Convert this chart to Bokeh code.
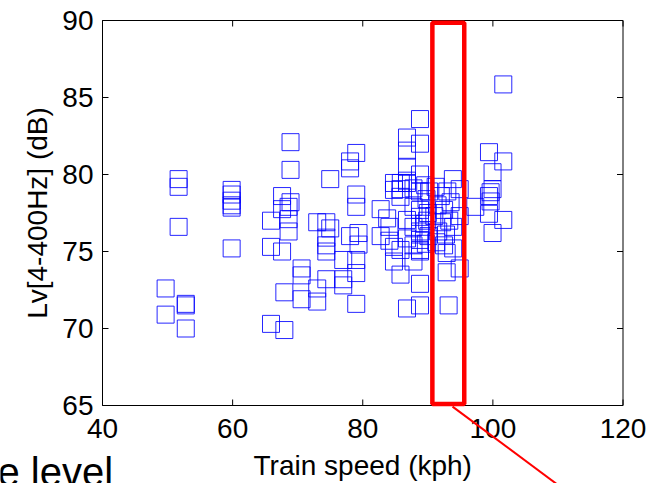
import math
from bokeh.plotting import figure
from bokeh.models import Range1d, Label, ColumnDataSource
from bokeh.core.properties import value
from bokeh.embed import file_html
from bokeh.resources import INLINE

# ---- data ----
speed_kph = [
    49.7, 49.7, 51.7, 51.7, 51.7, 52.8, 52.8, 52.8,
    59.85, 59.85, 59.85, 59.85, 59.85, 59.85,
    68.9, 68.9, 79.0, 78.05, 78.05, 75.0, 79.0, 79.0, 67.6, 68.9, 67.6, 68.6, 68.6, 65.9,
    68.6, 65.9, 67.6, 73.0, 75.0, 74.4, 74.4, 74.4, 74.4, 78.05, 79.35, 79.35, 82.75, 82.75,
    77.0, 79.0, 79.0, 70.6, 70.6, 74.4, 77.0, 77.0, 73.0, 73.0, 70.6, 67.95, 79.0, 65.9, 67.95,
    83.75, 84.1, 84.1, 84.8, 84.8, 85.8, 87.8, 88.8, 86.8, 88.8, 88.8, 86.8, 88.8, 86.8, 86.8,
    88.8, 84.8, 85.85, 84.8, 86.8, 87.8, 88.8, 85.8, 85.8, 87.8, 88.8, 88.8, 86.8, 87.8, 88.8,
    88.8, 86.8, 87.8, 88.8, 85.8, 86.8, 88.8,
    89.6, 89.8, 90.0, 89.5, 90.1, 89.7, 90.2, 89.9,
    93.2, 92.9, 94.9, 92.9, 93.9, 93.85, 94.9, 94.9, 91.2, 92.0, 93.0, 91.5, 92.5, 93.5,
    91.0, 92.2, 93.3, 91.6, 92.8, 93.9, 91.3, 92.5,
    101.6, 99.4, 101.6, 99.95, 99.95, 99.65, 99.4, 99.65, 99.4, 101.6, 99.95, 97.3,
]
level_db = [
    72.6, 70.9, 79.7, 79.2, 76.6, 71.6, 71.5, 70.0,
    79.0, 78.7, 78.3, 78.0, 77.85, 75.2,
    82.1, 80.3, 81.4, 80.85, 80.4, 79.7, 78.7, 77.9, 78.6, 78.2, 77.75, 77.9, 77.1, 77.0,
    76.3, 75.3, 75.0, 76.9, 76.5, 76.9, 75.9, 75.4, 75.0, 76.0, 76.2, 75.45, 77.75, 76.0,
    74.45, 74.45, 73.6, 73.9, 73.45, 73.2, 73.2, 72.8, 72.6, 71.75, 71.9, 72.35, 71.6, 70.3, 69.9,
    77.15, 76.6, 75.7, 75.3, 74.35, 73.5, 74.35, 72.9, 71.3, 71.5, 83.6, 82.4, 82.0, 81.55, 80.5,
    80.0, 79.45, 79.45, 79.0, 79.6, 79.1, 78.9, 78.55, 79.05, 77.9, 77.7, 77.25, 77.05, 76.6, 76.3,
    75.75, 75.85, 75.4, 75.1, 75.1, 79.45, 75.0,
    79.3, 78.4, 77.5, 76.8, 76.0, 75.5, 78.9, 77.0,
    71.5, 73.65, 73.9, 74.9, 75.2, 79.7, 79.05, 77.3, 79.2, 78.6, 78.9, 78.0, 77.7, 78.2,
    77.3, 76.9, 77.0, 76.3, 76.1, 76.6, 75.6, 75.4,
    85.85, 81.45, 80.85, 80.15, 79.05, 78.85, 78.6, 78.25, 77.45, 77.05, 76.2, 77.9,
]
x_ticks = [40, 60, 80, 100, 120]
y_ticks = [65, 70, 75, 80, 85, 90]
x_tick_labels = ["40", "60", "80", "100", "120"]
y_tick_labels = ["65", "70", "75", "80", "85", "90"]
x_label = "Train speed (kph)"
y_label = "Lv[4-400Hz] (dB)"
slide_text = "e level"
x_lim = (40, 120)
y_lim = (65, 90)

# highlighted speed band and pointer line (data units)
band_speed = (90.7, 95.6)
band_level = (65.1, 89.85)
pointer_from = (93.8, 64.93)
pointer_to = (116.5, 57.8)

# ---- layout (pixels on the canvas) ----
W, H = 648, 483
ax_left_px, ax_right_px = 102.0, 622.5
ax_top_px, ax_bottom_px = 20.0, 405.0
px_per_x = (ax_right_px - ax_left_px) / (x_lim[1] - x_lim[0])
px_per_y = (ax_bottom_px - ax_top_px) / (y_lim[1] - y_lim[0])
x_start = x_lim[0] - ax_left_px / px_per_x
x_end = x_start + W / px_per_x
y_end = y_lim[1] + ax_top_px / px_per_y
y_start = y_end - H / px_per_y

def dx(px):
    return px / px_per_x

def dy(px):
    return px / px_per_y

font = "Liberation Sans"
tick_len = 6

p = figure(
    width=W, height=H, output_backend="svg", toolbar_location=None,
    x_range=Range1d(x_start, x_end), y_range=Range1d(y_start, y_end),
    min_border=0, background_fill_color="white", border_fill_color="white",
)
p.outline_line_color = None
p.grid.visible = False
p.axis.visible = False

# data
src = ColumnDataSource(dict(speed=speed_kph, level=level_db))
p.scatter("speed", "level", source=src, marker="square", size=17,
          fill_color=None, line_color="#0000ff", line_width=1, line_alpha=0.85)

# axes box (MATLAB style, ticks inside on all four sides)
p.quad(left=[x_lim[0]], right=[x_lim[1]], bottom=[y_lim[0]], top=[y_lim[1]],
       fill_color=None, line_color="black", line_width=1)
nx, ny = len(x_ticks), len(y_ticks)
p.segment(x0=x_ticks, y0=[y_lim[0]] * nx, x1=x_ticks, y1=[y_lim[0] + dy(tick_len)] * nx,
          line_color="black", line_width=1)
p.segment(x0=x_ticks, y0=[y_lim[1]] * nx, x1=x_ticks, y1=[y_lim[1] - dy(tick_len)] * nx,
          line_color="black", line_width=1)
p.segment(x0=[x_lim[0]] * ny, y0=y_ticks, x1=[x_lim[0] + dx(tick_len)] * ny, y1=y_ticks,
          line_color="black", line_width=1)
p.segment(x0=[x_lim[1]] * ny, y0=y_ticks, x1=[x_lim[1] - dx(tick_len)] * ny, y1=y_ticks,
          line_color="black", line_width=1)

# tick labels
p.text(x=x_ticks, y=[y_lim[0] - dy(23)] * nx, text=x_tick_labels,
       text_font=value(font), text_font_size=value("28px"), text_color="black",
       text_align="center", text_baseline="middle")
p.text(x=[x_lim[0] - dx(9)] * ny, y=y_ticks, text=y_tick_labels,
       text_font=value(font), text_font_size=value("28px"), text_color="black",
       text_align="right", text_baseline="middle")

# axis titles
p.add_layout(Label(x=(x_lim[0] + x_lim[1]) / 2, y=y_lim[0] - dy(60), text=x_label,
                   text_font=font, text_font_size="28px", text_color="black",
                   text_align="center", text_baseline="middle"))
p.add_layout(Label(x=x_lim[0] - dx(65), y=(y_lim[0] + y_lim[1]) / 2, text=y_label,
                   angle=math.pi / 2, text_font=font, text_font_size="28px",
                   text_color="black", text_align="center", text_baseline="middle"))

# highlighted band and pointer
p.quad(left=[band_speed[0]], right=[band_speed[1]], bottom=[band_level[0]], top=[band_level[1]],
       fill_color=None, line_color="#ff0000", line_width=4.5)
p.segment(x0=[pointer_from[0]], y0=[pointer_from[1]], x1=[pointer_to[0]], y1=[pointer_to[1]],
          line_color="#ff0000", line_width=2)

# fragment of slide text at bottom-left
p.add_layout(Label(x=x_lim[0] - dx(105), y=y_lim[0] - dy(66), text=slide_text,
                   text_font=font, text_font_size="40px", text_color="black",
                   text_align="left", text_baseline="middle"))

open("out.html", "w").write(file_html(p, INLINE))
